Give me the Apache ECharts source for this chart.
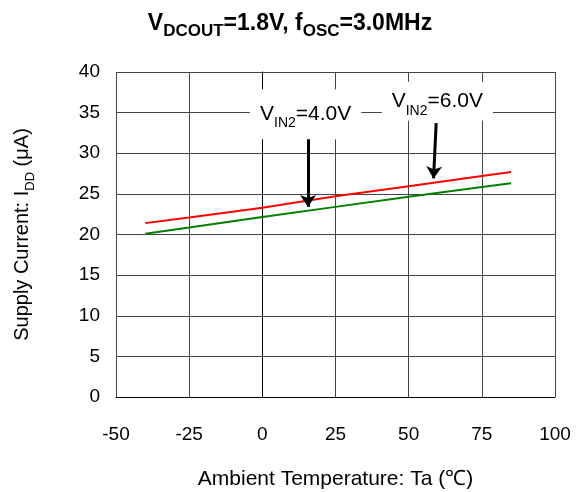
<!DOCTYPE html>
<html><head><meta charset="utf-8">
<script src="https://cdn.jsdelivr.net/npm/echarts@6/dist/echarts.min.js"></script>
<style>html,body{margin:0;padding:0;background:#fff}#c{width:580px;height:492px}</style>
</head><body><div id="c"></div>
<script>
const temps = [-40, -25, 0, 25, 50, 75, 85];
const vin6 = [21.4, 22.1, 23.3, 24.7, 25.95, 27.2, 27.7];
const vin4 = [20.1, 20.85, 22.15, 23.4, 24.65, 25.85, 26.3];
const xTicks = [-50, -25, 0, 25, 50, 75, 100];
const yTicks = [0, 5, 10, 15, 20, 25, 30, 35, 40];
const arrow4 = [[15.6, 31.8], [15.6, 23.4]];
const arrow6 = [[59.4, 33.7], [58.5, 26.9]];
const label4Pos = [14.8, 34.8];
const label6Pos = [59.8, 36.4];

const FONT = '"Liberation Sans", Arial, sans-serif';
const chart = echarts.init(document.getElementById('c'), null, {renderer: 'canvas'});

function pairs(xs, ys) { return xs.map((x, i) => [x, ys[i]]); }

const labelRich = {
  m: {fontSize: 21, fontFamily: FONT, color: '#000', verticalAlign: 'bottom', lineHeight: 24},
  s: {fontSize: 14, fontFamily: FONT, color: '#000', verticalAlign: 'bottom', lineHeight: 14, padding: [0, 0, -6, 0]}
};

function annot(pos, txt, pad) {
  return {
    coord: pos, symbol: 'rect', symbolSize: 0,
    label: {
      show: true, position: 'inside',
      formatter: txt,
      backgroundColor: '#fff', padding: pad,
      rich: labelRich
    }
  };
}

chart.setOption({
  animation: false,
  title: {
    text: '{m|V}{s|DCOUT}{m|=1.8V, f}{s|OSC}{m|=3.0MHz}',
    left: 'center', top: 7,
    textStyle: {
      rich: {
        m: {fontSize: 23, fontWeight: 'bold', fontFamily: FONT, color: '#000', verticalAlign: 'bottom'},
        s: {fontSize: 17, fontWeight: 'bold', fontFamily: FONT, color: '#000', verticalAlign: 'bottom', padding: [0, 0, -5, 0]}
      }
    }
  },
  grid: {left: 116, right: 25, top: 72, bottom: 95, containLabel: false, outerBoundsMode: 'none'},
  xAxis: {
    type: 'value', min: -50, max: 100, interval: 25,
    name: 'Ambient Temperature: Ta (℃)', nameLocation: 'middle', nameGap: 72,
    nameTextStyle: {fontSize: 21, fontFamily: FONT, color: '#000'},
    axisLine: {show: true, lineStyle: {color: '#000', width: 1}},
    axisTick: {show: false},
    axisLabel: {fontSize: 19, fontFamily: FONT, color: '#000', margin: 28},
    splitLine: {show: true, lineStyle: {color: '#444', width: 1}}
  },
  yAxis: {
    type: 'value', min: 0, max: 40, interval: 5,
    name: '{m|Supply Current: I}{s|DD}{m| (μA)}', nameLocation: 'middle', nameGap: 84, nameRotate: 90,
    nameTextStyle: {
      rich: {
        m: {fontSize: 20, fontFamily: FONT, color: '#000', verticalAlign: 'bottom'},
        s: {fontSize: 13, fontFamily: FONT, color: '#000', verticalAlign: 'bottom', padding: [0, 0, -5, 0]}
      }
    },
    axisLine: {show: true, lineStyle: {color: '#000', width: 1}},
    axisTick: {show: false},
    axisLabel: {fontSize: 19, fontFamily: FONT, color: '#000', margin: 16},
    splitLine: {show: true, lineStyle: {color: '#444', width: 1}}
  },
  series: [
    {
      type: 'line', data: pairs(temps, vin4), symbol: 'none',
      lineStyle: {color: '#008000', width: 2}, z: 3,
      markLine: {
        silent: true, symbol: ['none', 'arrow'], symbolSize: 12,
        lineStyle: {color: '#000', width: 3, type: 'solid'},
        label: {show: false},
        data: [
          [{coord: arrow4[0]}, {coord: arrow4[1]}],
          [{coord: arrow6[0]}, {coord: arrow6[1]}]
        ]
      },
      markPoint: {
        silent: true,
        data: [
          annot(label4Pos, '{m|V}{s|IN2}{m|=4.0V}', [11, 10, 15, 10]),
          annot(label6Pos, '{m|V}{s|IN2}{m|=6.0V}', [6, 10, 9, 10])
        ]
      }
    },
    {
      type: 'line', data: pairs(temps, vin6), symbol: 'none',
      lineStyle: {color: '#ff0000', width: 2}, z: 3
    }
  ]
});
</script></body></html>
